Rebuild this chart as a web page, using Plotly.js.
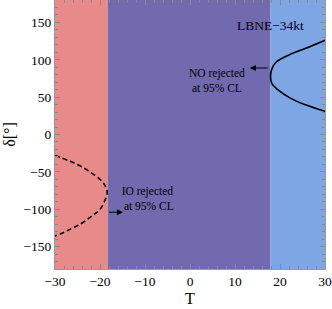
<!DOCTYPE html>
<html><head><meta charset="utf-8">
<script src="https://cdn.plot.ly/plotly-3.0.1.min.js"></script>
<style>body{margin:0;background:#fff}#c{width:332px;height:309px}</style>
</head><body><div id="c"></div>
<script>
// Region boundaries in T
const regionEdges = [-30, -18.3, 17.9, 30];
const regionColors = ['#E88A8A', '#716AAE', '#7FA6E4'];
// NO rejected contour (solid)
const noDelta = [126, 115, 107, 96, 86, 77, 68, 60, 49, 40, 31];
const noT     = [30, 25.6, 22.2, 19.0, 18.1, 17.9, 18.2, 19.5, 22.2, 25.5, 30];
// IO rejected contour (dashed)
const ioDelta = [-28, -35, -42, -51, -60, -68, -77, -88, -100, -110, -120, -128, -136];
const ioT     = [-30, -27.0, -24.4, -22.0, -20.0, -18.9, -18.4, -18.9, -20.0, -22.0, -24.4, -27.0, -30];
// arrows
const noArrow = {x: 13.3, y: 89, ax: 17.6, ay: 89};
const ioArrow = {x: -14.9, y: -104, ax: -18.3, ay: -104};

const shapes = [];
for (let i = 0; i < regionColors.length; i++) {
  shapes.push({type:'rect', xref:'x', yref:'y', x0:regionEdges[i], x1:regionEdges[i+1], y0:-180, y1:180,
    fillcolor: regionColors[i], line:{width:0}, layer:'below'});
}
const serif = 'Liberation Serif, Times New Roman, serif';
const data = [
  {x: noT, y: noDelta, mode:'lines', line:{color:'#000', width:1.6, shape:'spline'}, hoverinfo:'skip'},
  {x: ioT, y: ioDelta, mode:'lines', line:{color:'#000', width:1.6, dash:'5px,3px', shape:'spline'}, hoverinfo:'skip'}
];
const axisCommon = {showgrid:false, zeroline:false, ticks:'inside', mirror:'allticks', showline:true,
  linecolor:'#999', linewidth:1, tickcolor:'#888', ticklen:5, tickfont:{family:serif, size:13.5, color:'#000'}};
const layout = {
  width:332, height:309, margin:{l:55, r:7, t:0, b:39.5},
  paper_bgcolor:'#fff', plot_bgcolor:'#fff', showlegend:false,
  font:{family:serif, color:'#000'},
  shapes: shapes,
  xaxis: Object.assign({}, axisCommon, {range:[-30,30], dtick:10, tick0:0,
    minor:{dtick:2, ticklen:3, tickcolor:'#888', ticks:'inside'},
    title:{text:'T', font:{family:serif, size:16}, standoff:4}}),
  yaxis: Object.assign({}, axisCommon, {range:[-180,180], dtick:50, tick0:0,
    minor:{dtick:10, ticklen:3, tickcolor:'#888', ticks:'inside'},
    title:{text:'δ[°]', font:{family:serif, size:16}, standoff:3}}),
  annotations: [
    {x:noArrow.x, y:noArrow.y, ax:noArrow.ax, ay:noArrow.ay, axref:'x', ayref:'y', xref:'x', yref:'y',
     showarrow:true, arrowhead:2, arrowsize:1.2, arrowwidth:1, arrowcolor:'#000', text:''},
    {x:ioArrow.x, y:ioArrow.y, ax:ioArrow.ax, ay:ioArrow.ay, axref:'x', ayref:'y', xref:'x', yref:'y',
     showarrow:true, arrowhead:2, arrowsize:1.2, arrowwidth:1, arrowcolor:'#000', text:''},
    {x:6, y:72, xref:'x', yref:'y', showarrow:false, text:'NO rejected<br>at 95% CL', font:{family:serif, size:11.5}},
    {x:-9.5, y:-86, xref:'x', yref:'y', showarrow:false, text:'IO rejected<br> at 95% CL', font:{family:serif, size:11.5}},
    {x:17.9, y:146, xref:'x', yref:'y', showarrow:false, text:'LBNE−34kt', font:{family:serif, size:13.5}}
  ]
};
Plotly.newPlot('c', data, layout, {staticPlot:true, displayModeBar:false});
</script></body></html>
